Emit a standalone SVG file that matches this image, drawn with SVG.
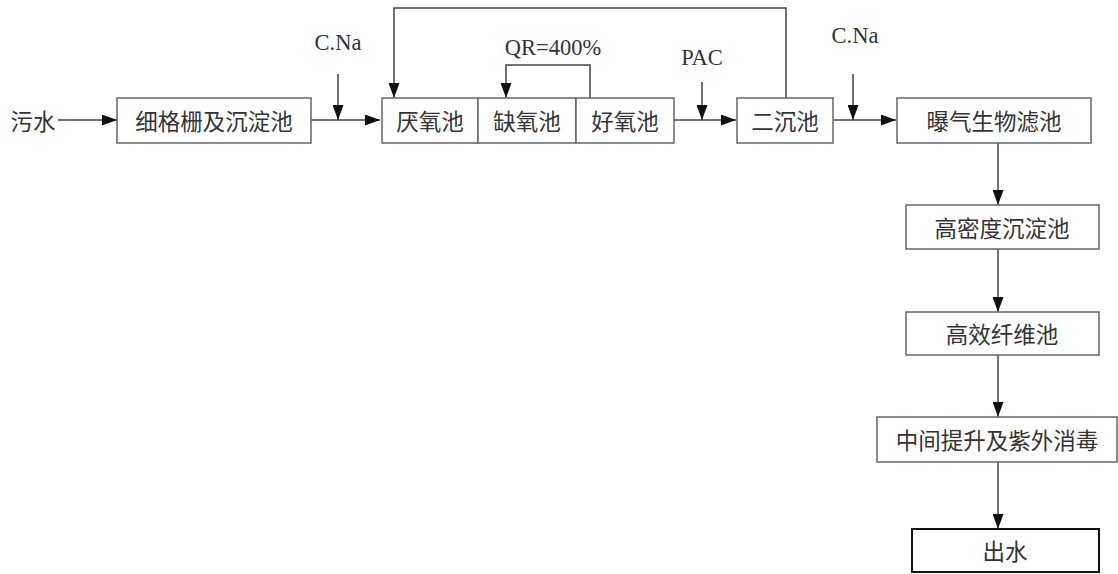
<svg xmlns="http://www.w3.org/2000/svg" width="1118" height="574" viewBox="0 0 1118 574">
<style>
.box{fill:#fff;stroke:#666;stroke-width:1.5}
.cn{font-family:"Noto Sans CJK SC","Noto Sans",sans-serif;font-size:22.5px;fill:#333;text-anchor:middle;dominant-baseline:central}
.lt{font-family:"Liberation Serif","Times New Roman",serif;font-size:22.5px;fill:#333;text-anchor:middle}
.ln{fill:none;stroke:#444;stroke-width:1.5}
</style>
<defs>
<marker id="ah" viewBox="0 0 15 11" refX="15" refY="5.5" markerWidth="15" markerHeight="11" markerUnits="userSpaceOnUse" orient="auto">
<path d="M0,0 L15,5.5 L0,11 Z" fill="#111"/>
</marker>
</defs>
<rect width="1118" height="574" fill="#fff"/>
<g id="connectors">
<line class="ln" x1="58" y1="120" x2="117" y2="120" marker-end="url(#ah)"/>
<line class="ln" x1="311" y1="120" x2="380" y2="120" marker-end="url(#ah)"/>
<line class="ln" x1="338" y1="74" x2="338" y2="120" marker-end="url(#ah)"/>
<polyline class="ln" points="786,98 786,8 394,8 394,98" marker-end="url(#ah)"/>
<polyline class="ln" points="590,98 590,65 506,65 506,98" marker-end="url(#ah)"/>
<line class="ln" x1="674" y1="120" x2="736" y2="120" marker-end="url(#ah)"/>
<line class="ln" x1="702" y1="82" x2="702" y2="120" marker-end="url(#ah)"/>
<line class="ln" x1="833" y1="120" x2="896" y2="120" marker-end="url(#ah)"/>
<line class="ln" x1="853" y1="74" x2="853" y2="120" marker-end="url(#ah)"/>
<line class="ln" x1="998" y1="143" x2="998" y2="205" marker-end="url(#ah)"/>
<line class="ln" x1="998" y1="249" x2="998" y2="312" marker-end="url(#ah)"/>
<line class="ln" x1="998" y1="355" x2="998" y2="417" marker-end="url(#ah)"/>
<line class="ln" x1="998" y1="462" x2="998" y2="529" marker-end="url(#ah)"/>
</g>
<g id="labels">
<text class="cn" x="33" y="120">污水</text>
<text class="lt" x="338" y="50">C.Na</text>
<text class="lt" x="553" y="55">QR=400%</text>
<text class="lt" x="702" y="65">PAC</text>
<text class="lt" x="855" y="43">C.Na</text>
</g>
<g id="n1"><rect class="box" x="117" y="98" width="194" height="45"/><text class="cn" x="214" y="120">细格栅及沉淀池</text></g>
<g id="n2"><rect class="box" x="382" y="98" width="96" height="45"/><text class="cn" x="430" y="120">厌氧池</text></g>
<g id="n3"><rect class="box" x="478" y="98" width="98" height="45"/><text class="cn" x="527" y="120">缺氧池</text></g>
<g id="n4"><rect class="box" x="576" y="98" width="98" height="45"/><text class="cn" x="625" y="120">好氧池</text></g>
<g id="n5"><rect class="box" x="737" y="98" width="96" height="45"/><text class="cn" x="785" y="120">二沉池</text></g>
<g id="n6"><rect class="box" x="897" y="98" width="194" height="45"/><text class="cn" x="994" y="120">曝气生物滤池</text></g>
<g id="n7"><rect class="box" x="906" y="205" width="193" height="44"/><text class="cn" x="1002" y="227">高密度沉淀池</text></g>
<g id="n8"><rect class="box" x="906" y="312" width="193" height="43"/><text class="cn" x="1002" y="333">高效纤维池</text></g>
<g id="n9"><rect class="box" x="877" y="417" width="240" height="45"/><text class="cn" x="997" y="439">中间提升及紫外消毒</text></g>
<g id="n10"><rect x="912" y="529" width="187" height="43" fill="#fff" stroke="#111" stroke-width="2"/><text class="cn" x="1005" y="550">出水</text></g>
</svg>
